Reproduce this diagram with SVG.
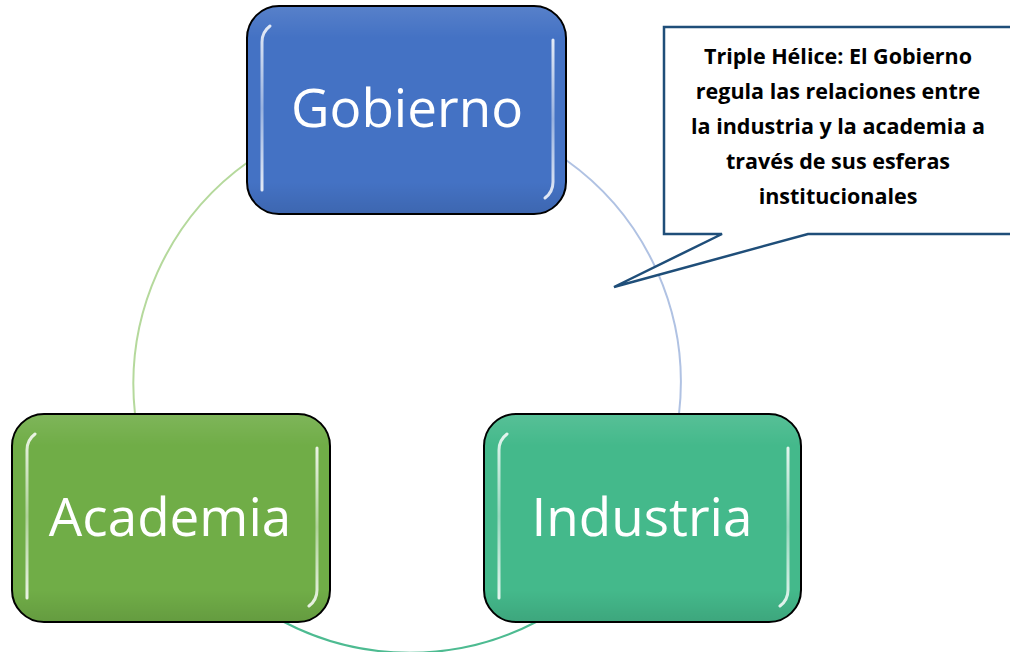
<svg xmlns="http://www.w3.org/2000/svg" width="1010" height="652" viewBox="0 0 1010 652">
<style>
.box{stroke:#000;stroke-width:2}
.lbl{font-family:"Open Sans","Liberation Sans",sans-serif;font-size:53px;fill:#fff;text-anchor:middle}
.gl{fill:none;stroke:url(#hl);stroke-width:3;stroke-linecap:round}
.co{font-family:"Open Sans","Liberation Sans",sans-serif;font-weight:bold;font-size:21.5px;fill:#000;text-anchor:middle}
</style>
<defs>
<linearGradient id="hl" x1="0" y1="0" x2="0" y2="1">
<stop offset="0" stop-color="#fff" stop-opacity="0.85"/>
<stop offset="0.5" stop-color="#fff" stop-opacity="0.45"/>
<stop offset="1" stop-color="#fff" stop-opacity="0.85"/>
</linearGradient>
<linearGradient id="sh" x1="0" y1="0" x2="0" y2="1">
<stop offset="0" stop-color="#fff" stop-opacity="0.1"/>
<stop offset="0.15" stop-color="#fff" stop-opacity="0"/>
<stop offset="0.85" stop-color="#000" stop-opacity="0"/>
<stop offset="1" stop-color="#000" stop-opacity="0.1"/>
</linearGradient>
</defs>
<g id="connectors" fill="none" stroke-width="2">
<path d="M248,162 A273,273 0 0 0 135,414" stroke="#b5d99c"/>
<path d="M566,160 A273,273 0 0 1 679,414" stroke="#b0c2e3"/>
<path d="M284,622 A273,273 0 0 0 536,622" stroke="#4dbb91"/>
</g>
<g id="gobierno">
<rect class="box" x="247" y="6" width="319" height="208" rx="32" fill="#4472c4"/>
<rect x="248" y="7" width="317" height="206" rx="31" fill="url(#sh)"/>
<path class="gl" d="M262,190 V42 Q262,32 270,26"/>
<path class="gl" d="M553,40 V182 Q553,192 545,198"/>
<text class="lbl" x="407" y="127">Gobierno</text>
</g>
<g id="academia">
<rect class="box" x="12" y="414" width="318" height="208" rx="32" fill="#70ad47"/>
<rect x="13" y="415" width="316" height="206" rx="31" fill="url(#sh)"/>
<path class="gl" d="M27,598 V450 Q27,440 35,434"/>
<path class="gl" d="M317,448 V590 Q317,600 309,606"/>
<text class="lbl" x="170" y="536">Academia</text>
</g>
<g id="industria">
<rect class="box" x="484" y="414" width="317" height="208" rx="32" fill="#44b98b"/>
<rect x="485" y="415" width="315" height="206" rx="31" fill="url(#sh)"/>
<path class="gl" d="M499,598 V450 Q499,440 507,434"/>
<path class="gl" d="M788,448 V590 Q788,600 780,606"/>
<text class="lbl" x="642" y="536">Industria</text>
</g>
<g id="callout">
<path d="M664,27 H1012 V234 H808 L614,287 L722,234 H664 Z" fill="#fff" stroke="#1f4e79" stroke-width="2.5" stroke-linejoin="miter"/>
<text class="co" x="838" y="64">Triple Hélice: El Gobierno</text>
<text class="co" x="838" y="99">regula las relaciones entre</text>
<text class="co" x="838" y="134">la industria y la academia a</text>
<text class="co" x="838" y="169">través de sus esferas</text>
<text class="co" x="838" y="204">institucionales</text>
</g>
</svg>
